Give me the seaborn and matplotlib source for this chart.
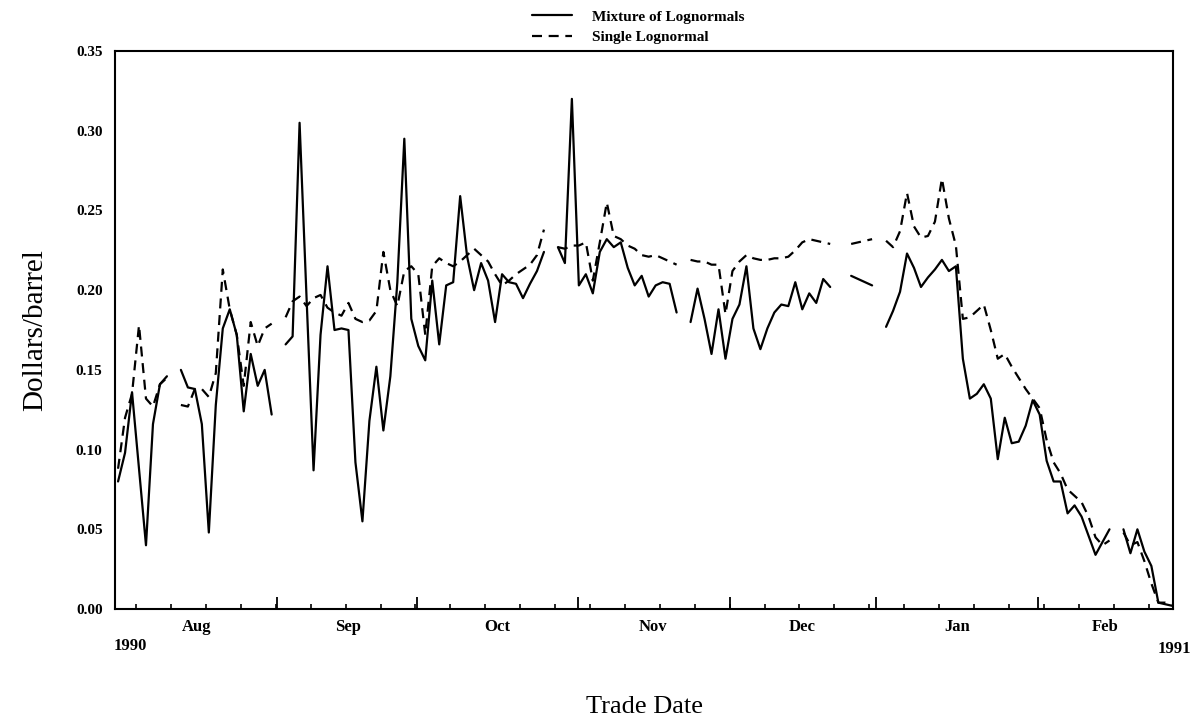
import numpy as np
import pandas as pd
import matplotlib
matplotlib.use("Agg")
import matplotlib.pyplot as plt
import seaborn as sns

nan = np.nan

# daily values (trading-day index 0..151), NaN = no observation
mixture = [
    0.080, 0.098, 0.136, 0.088, 0.040, 0.116, 0.141, 0.146, nan, 0.150,
    0.139, 0.138, 0.116, 0.048, 0.128, 0.176, 0.188, 0.172, 0.124, 0.160,
    0.140, 0.150, 0.122, nan, 0.166, 0.171, 0.305, 0.195, 0.087, 0.172,
    0.215, 0.175, 0.176, 0.175, 0.092, 0.055, 0.118, 0.152, 0.112, 0.146,
    0.205, 0.295, 0.182, 0.165, 0.156, 0.206, 0.166, 0.203, 0.205, 0.259,
    0.221, 0.200, 0.217, 0.206, 0.180, 0.210, 0.205, 0.204, 0.195, 0.204,
    0.212, 0.224, nan, 0.227, 0.217, 0.320, 0.203, 0.210, 0.198, 0.224,
    0.232, 0.227, 0.230, 0.214, 0.203, 0.209, 0.196, 0.203, 0.205, 0.204,
    0.186, nan, 0.180, 0.201, 0.182, 0.160, 0.188, 0.157, 0.182, 0.191,
    0.215, 0.176, 0.163, 0.176, 0.186, 0.191, 0.190, 0.205, 0.188, 0.198,
    0.192, 0.207, 0.202, nan, nan, 0.209, 0.207, 0.205, 0.203, nan,
    0.177, 0.187, 0.199, 0.223, 0.214, 0.202, 0.208, 0.213, 0.219, 0.212,
    0.215, 0.157, 0.132, 0.135, 0.141, 0.132, 0.094, 0.120, 0.104, 0.105,
    0.115, 0.131, 0.122, 0.093, 0.080, 0.080, 0.060, 0.065, 0.058, 0.046,
    0.034, 0.042, 0.050, nan, 0.050, 0.035, 0.050, 0.036, 0.027, 0.004,
    0.003, 0.002,
]
single = [
    0.088, 0.120, 0.135, 0.178, 0.132, 0.127, 0.141, 0.145, nan, 0.128,
    0.127, 0.138, 0.138, 0.133, 0.148, 0.213, 0.188, 0.172, 0.140, 0.180,
    0.165, 0.176, 0.179, nan, 0.183, 0.193, 0.196, 0.190, 0.195, 0.197,
    0.189, 0.186, 0.184, 0.192, 0.182, 0.180, 0.181, 0.187, 0.224, 0.200,
    0.190, 0.212, 0.215, 0.210, 0.172, 0.215, 0.220, 0.217, 0.215, 0.218,
    0.222, 0.226, 0.222, 0.218, 0.210, 0.203, 0.206, 0.210, 0.213, 0.216,
    0.222, 0.238, nan, 0.227, 0.226, 0.228, 0.228, 0.230, 0.206, 0.230,
    0.255, 0.234, 0.232, 0.228, 0.226, 0.222, 0.221, 0.222, 0.220, 0.218,
    0.216, nan, 0.219, 0.218, 0.218, 0.216, 0.216, 0.185, 0.212, 0.218,
    0.222, 0.220, 0.219, 0.219, 0.220, 0.220, 0.221, 0.225, 0.230, 0.232,
    0.231, 0.230, 0.229, nan, nan, 0.229, 0.230, 0.231, 0.232, nan,
    0.231, 0.227, 0.237, 0.261, 0.240, 0.233, 0.234, 0.243, 0.270, 0.245,
    0.228, 0.182, 0.183, 0.187, 0.191, 0.175, 0.157, 0.160, 0.152, 0.145,
    0.138, 0.132, 0.126, 0.106, 0.092, 0.085, 0.075, 0.071, 0.067, 0.058,
    0.045, 0.040, 0.043, nan, 0.048, 0.040, 0.042, 0.030, 0.016, 0.004,
    0.004, 0.003,
]

month_names = ["Aug", "Sep", "Oct", "Nov", "Dec", "Jan", "Feb"]
month_label_days = [11.2, 33.0, 54.3, 76.6, 98.0, 120.2, 141.4]
month_edge_days = [22.8, 42.8, 65.9, 87.7, 108.6, 131.7]

series = {"Mixture of Lognormals": mixture, "Single Lognormal": single}

# long table, one unit per unbroken run so gaps stay open
frames = []
for name, vals in series.items():
    s = pd.Series(vals, dtype=float)
    seg = s.isna().cumsum()
    df = pd.DataFrame({"day": np.arange(len(s)), "value": s, "model": name,
                       "unit": name + "_" + seg.astype(str)})
    frames.append(df.dropna())
data = pd.concat(frames, ignore_index=True)

sns.set_style("ticks", {"axes.edgecolor": "black", "xtick.color": "black",
                        "ytick.color": "black", "text.color": "black",
                        "axes.labelcolor": "black"})
plt.rcParams["font.family"] = ["Liberation Serif", "DejaVu Serif"]

fig = plt.figure(figsize=(12.01, 7.21), dpi=100)
ax = fig.add_axes([0.0958, 0.1553, 0.8809, 0.7739])

sns.lineplot(data=data, x="day", y="value", style="model", units="unit",
             estimator=None, color="black", linewidth=1.6,
             dashes={"Mixture of Lognormals": "", "Single Lognormal": (4.5, 3)},
             ax=ax)

for sp in ax.spines.values():
    sp.set_linewidth(1.5)
    sp.set_color("black")

ax.set_xlim(-0.43, 151.1)
ax.set_ylim(0, 0.35)
ax.set_yticks(np.arange(0, 0.351, 0.05))
ax.set_yticklabels([f"{v:.2f}" for v in np.arange(0, 0.351, 0.05)],
                   fontsize=11, fontweight="bold")
ax.tick_params(axis="y", length=0, pad=9)

ax.set_xticks(month_edge_days)
ax.set_xticks(np.arange(2.6, 150, 5.0), minor=True)
ax.tick_params(axis="x", which="major", direction="in", length=9, width=1.3,
               labelbottom=False)
ax.tick_params(axis="x", which="minor", direction="in", length=3.5, width=1.2)

xt = ax.get_xaxis_transform()
for name, d in zip(month_names, month_label_days):
    ax.text(d, -0.018, name, transform=xt, ha="center", va="top",
            fontsize=12, fontweight="bold")
ax.text(1.8, -0.052, "1990", transform=xt, ha="center", va="top",
        fontsize=12, fontweight="bold")
ax.text(151.3, -0.058, "1991", transform=xt, ha="center", va="top",
        fontsize=12, fontweight="bold")

ax.set_xlabel("Trade Date", fontsize=19, color="black")
ax.xaxis.set_label_coords(0.5, -0.155)
ax.set_ylabel("Dollars/barrel", fontsize=21, color="black")
ax.yaxis.set_label_coords(-0.063, 0.5)

old = ax.get_legend()
handles = old.legend_handles
labels = [t.get_text() for t in old.get_texts()]
ax.legend(handles, labels, loc="lower left", bbox_to_anchor=(0.394, 1.012),
          frameon=False, handlelength=2.6, handletextpad=1.35,
          labelspacing=0.45, borderpad=0, borderaxespad=0,
          prop={"family": "Liberation Serif", "weight": "bold", "size": 11})

fig.savefig("out.png", dpi=100)
